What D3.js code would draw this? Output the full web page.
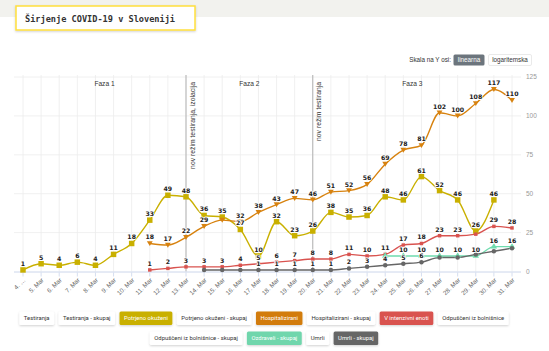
<!DOCTYPE html>
<html>
<head>
<meta charset="utf-8">
<script src="https://cdn.jsdelivr.net/npm/d3@7"></script>
<style>
  body { margin: 0; background: #fff; }
  svg { display: block; font-family: "Liberation Sans", Arial, sans-serif; }
</style>
</head>
<body>
<div id="chart"></div>
<script>
// categories (x axis)
const dayLabels = ["4. Mar","5. Mar","6. Mar","7. Mar","8. Mar","9. Mar","10. Mar","11. Mar","12. Mar","13. Mar",
  "14. Mar","15. Mar","16. Mar","17. Mar","18. Mar","19. Mar","20. Mar","21. Mar","22. Mar","23. Mar",
  "24. Mar","25. Mar","26. Mar","27. Mar","28. Mar","29. Mar","30. Mar","31. Mar"];

// series values, one per day (null = no data)
const potrjenoOkuzeni = [1,5,4,6,4,11,18,33,49,48,36,35,27,10,32,23,26,38,35,36,48,46,61,52,46,26,46,null];
const hospitalizirani = [null,null,null,null,null,null,null,18,17,22,29,33,32,38,43,47,46,51,52,56,69,78,81,102,100,108,117,110];
const intenzivna = [null,null,null,null,null,null,null,1,2,3,3,3,4,5,6,7,8,8,11,10,11,17,18,23,23,24,29,28];
const ozdraveliSkupaj = [null,null,null,null,null,null,null,null,null,null,null,null,null,null,null,null,null,null,null,null,10,10,10,10,10,10,16,16];
const umrliSkupaj = [null,null,null,null,null,null,null,null,null,null,1,1,1,1,1,1,1,1,2,3,4,5,6,9,9,11,13,15];

const yTicks = [0,25,50,75,100,125];

// phases and plot lines
const phases = [
  {name: "Faza 1", from: "4. Mar", to: "13. Mar"},
  {name: "Faza 2", from: "13. Mar", to: "20. Mar"},
  {name: "Faza 3", from: "20. Mar", to: "31. Mar"}
];
const plotLines = [
  {at: "13. Mar", text: "nov režim testiranja, izolacija"},
  {at: "20. Mar", text: "nov režim testiranja"}
];

const legendRow1 = ["Testiranja","Testiranja - skupaj","Potrjeno okuženi","Potrjeno okuženi - skupaj","Hospitalizirani","Hospitalizirani - skupaj","V intenzivni enoti","Odpuščeni iz bolnišnice"];
const legendRow2 = ["Odpuščeni iz bolnišnice - skupaj","Ozdraveli - skupaj","Umrli","Umrli - skupaj"];
const activeColors = {
  "Potrjeno okuženi": "#c9b000",
  "Hospitalizirani": "#d27b0c",
  "V intenzivni enoti": "#d9534f",
  "Ozdraveli - skupaj": "#70d6ac",
  "Umrli - skupaj": "#666666"
};

const series = [
  {name: "Potrjeno okuženi", values: potrjenoOkuzeni, color: "#c9b000", symbol: d3.symbolSquare, size: 30},
  {name: "Hospitalizirani", values: hospitalizirani, color: "#d7820f", symbol: "down", size: 22},
  {name: "V intenzivni enoti", values: intenzivna, color: "#d9534f", symbol: d3.symbolSquare, size: 12},
  {name: "Ozdraveli - skupaj", values: ozdraveliSkupaj, color: "#6fdcae", symbol: d3.symbolTriangle, size: 18},
  {name: "Umrli - skupaj", values: umrliSkupaj, color: "#666666", symbol: d3.symbolCircle, size: 16}
];

const W = 549, H = 351;
const plot = {left: 14, right: 521, top: 77, bottom: 271.5};

const svg = d3.select("#chart").append("svg")
  .attr("width", W).attr("height", H);

const defs = svg.append("defs");
const shadow = defs.append("filter").attr("id", "shadow")
  .attr("x", "-20%").attr("y", "-30%").attr("width", "140%").attr("height", "170%");
shadow.append("feDropShadow").attr("dx", 0).attr("dy", 1).attr("stdDeviation", 1.2)
  .attr("flood-color", "#000").attr("flood-opacity", 0.18);

// header band + title box
svg.append("rect").attr("x", 0).attr("y", 0).attr("width", W).attr("height", 17).attr("fill", "#f2f2ee");
svg.append("rect").attr("x", 16).attr("y", 6).attr("width", 179).attr("height", 24)
  .attr("fill", "#fff").attr("stroke", "#ffdf3d").attr("stroke-width", 1.5)
  .attr("filter", "url(#shadow)");
svg.append("text").attr("x", 25).attr("y", 21.5)
  .attr("font-family", "'DejaVu Sans Mono', 'Liberation Mono', monospace")
  .attr("font-weight", "bold").attr("font-size", 8.6).attr("fill", "#333")
  .text("Širjenje COVID-19 v Sloveniji");

// scale toggle
svg.append("text").attr("x", 451).attr("y", 62.3).attr("text-anchor", "end")
  .attr("font-size", 6.3).attr("fill", "#333").text("Skala na Y osi:");
svg.append("rect").attr("x", 453.5).attr("y", 54.5).attr("width", 31).attr("height", 11).attr("rx", 1.5)
  .attr("fill", "#6c757d");
svg.append("text").attr("x", 469).attr("y", 62.3).attr("text-anchor", "middle")
  .attr("font-size", 6.3).attr("fill", "#fff").text("linearna");
svg.append("rect").attr("x", 488.5).attr("y", 54.5).attr("width", 43).attr("height", 11).attr("rx", 1.5)
  .attr("fill", "#fff").attr("stroke", "#dcdcdc").attr("stroke-width", 0.6);
svg.append("text").attr("x", 510).attr("y", 62.3).attr("text-anchor", "middle")
  .attr("font-size", 6.3).attr("fill", "#333").text("logaritemska");

// scales
const x = d3.scalePoint().domain(dayLabels).range([23, 512]);
const y = d3.scaleLinear().domain([0, 125]).range([plot.bottom, plot.top]);

// grid
const grid = svg.append("g");
grid.selectAll("line.h").data(yTicks.filter(d => d > 0)).join("line")
  .attr("x1", plot.left).attr("x2", plot.right)
  .attr("y1", d => y(d)).attr("y2", d => y(d))
  .attr("stroke", "#ececec").attr("stroke-width", 0.8);
grid.selectAll("line.v").data(dayLabels).join("line")
  .attr("x1", d => x(d)).attr("x2", d => x(d))
  .attr("y1", plot.top - 2).attr("y2", plot.bottom)
  .attr("stroke", "#ececec").attr("stroke-width", 0.8);

// plot lines with rotated labels
plotLines.forEach(p => {
  svg.append("line").attr("x1", x(p.at)).attr("x2", x(p.at))
    .attr("y1", plot.top - 2).attr("y2", plot.bottom)
    .attr("stroke", "#aaa").attr("stroke-width", 0.9);
  svg.append("text")
    .attr("transform", `translate(${x(p.at) + 8.5},${plot.top + 5}) rotate(-90)`)
    .attr("text-anchor", "end").attr("font-size", 6.8).attr("fill", "#333")
    .text(p.text);
});

// phase labels
svg.selectAll("text.phase").data(phases).join("text")
  .attr("x", d => (x(d.from) + x(d.to)) / 2).attr("y", 85.5)
  .attr("text-anchor", "middle").attr("font-size", 6.6).attr("fill", "#333")
  .text(d => d.name);

// x axis
svg.append("line").attr("x1", plot.left).attr("x2", plot.right)
  .attr("y1", plot.bottom + 0.5).attr("y2", plot.bottom + 0.5)
  .attr("stroke", "#ccd6eb").attr("stroke-width", 1);
svg.selectAll("line.tick").data(dayLabels).join("line")
  .attr("x1", d => x(d)).attr("x2", d => x(d))
  .attr("y1", plot.bottom + 1).attr("y2", plot.bottom + 5)
  .attr("stroke", "#ccd6eb").attr("stroke-width", 0.8);
const xl = svg.selectAll("text.xl").data(dayLabels).join("text")
  .attr("transform", d => `translate(${x(d) + 3},${plot.bottom + 9}) rotate(-45)`)
  .attr("text-anchor", "end").attr("font-size", 6.3).attr("fill", "#666")
  .text(d => d);
// shorten labels that would run past the left edge of the chart
xl.each(function(d) {
  const t = d3.select(this);
  const ex = x(d) + 3;
  let s = d;
  while (ex - this.getComputedTextLength() * Math.SQRT1_2 < 17 && s.length > 2) {
    s = s.slice(0, -1);
    t.text(s.trimEnd() + " …");
  }
});

// y axis (right side)
svg.selectAll("text.yl").data(yTicks).join("text")
  .attr("x", 526).attr("y", d => y(d) + 2.3)
  .attr("font-size", 6.5).attr("fill", "#999")
  .text(d => d);

// series
const line = d3.line()
  .defined(d => d.v != null)
  .x(d => x(d.k)).y(d => y(d.v))
  .curve(d3.curveMonotoneX);

const gLines = svg.append("g");
const gMarks = svg.append("g");
const gLabels = svg.append("g");

function symbolPath(s) {
  if (s.symbol === "down") {
    const r = Math.sqrt(s.size) * 0.62;
    return `M${-r},${-r * 0.8}L${r},${-r * 0.8}L0,${r * 0.9}Z`;
  }
  return d3.symbol(s.symbol, s.size)();
}

// data labels, later series hide behind earlier ones when they overlap
const placed = [];
series.forEach(s => {
  const pts = dayLabels.map((k, i) => ({k, v: s.values[i]}));
  gLines.append("path").attr("d", line(pts))
    .attr("fill", "none").attr("stroke", s.color).attr("stroke-width", 1.4);
  const valid = pts.filter(d => d.v != null);
  gMarks.selectAll(null).data(valid).join("path")
    .attr("transform", d => `translate(${x(d.k)},${y(d.v)})`)
    .attr("d", symbolPath(s)).attr("fill", s.color);
  valid.forEach(d => {
    const t = gLabels.append("text")
      .attr("x", x(d.k)).attr("y", y(d.v) - 4)
      .attr("text-anchor", "middle")
      .attr("font-family", "'DejaVu Sans', sans-serif")
      .attr("font-weight", "bold").attr("font-size", 6.2).attr("fill", "#222")
      .attr("stroke", "#fff").attr("stroke-width", 1.6).attr("stroke-linejoin", "round")
      .attr("paint-order", "stroke")
      .text(d.v);
    const b = t.node().getBBox();
    const hit = placed.some(p => b.x < p.x + p.width && p.x < b.x + b.width &&
                                 b.y + 1 < p.y + p.height && p.y + 1 < b.y + b.height);
    if (hit) t.remove(); else placed.push(b);
  });
});

// legend buttons
function legendRow(items, yTop) {
  const pad = 4.5, gap = 4.5, h = 13.5;
  const g = svg.append("g");
  const widths = items.map(name => {
    const t = g.append("text").attr("font-family", "Roboto, sans-serif").attr("font-size", 5.9).text(name);
    const w = t.node().getComputedTextLength();
    t.remove();
    return w + pad * 2;
  });
  const total = d3.sum(widths) + gap * (items.length - 1);
  let cx = 264 - total / 2;
  items.forEach((name, i) => {
    const col = activeColors[name];
    g.append("rect").attr("x", cx).attr("y", yTop).attr("width", widths[i]).attr("height", h)
      .attr("rx", 1.5).attr("fill", col || "#fff").attr("filter", "url(#shadow)");
    g.append("text").attr("x", cx + widths[i] / 2).attr("y", yTop + h / 2 + 2.1)
      .attr("text-anchor", "middle").attr("font-family", "Roboto, sans-serif").attr("font-size", 5.9)
      .attr("fill", col ? "#fff" : "#333").text(name);
    cx += widths[i] + gap;
  });
}
legendRow(legendRow1, 311.5);
legendRow(legendRow2, 331.5);
</script>
</body>
</html>
